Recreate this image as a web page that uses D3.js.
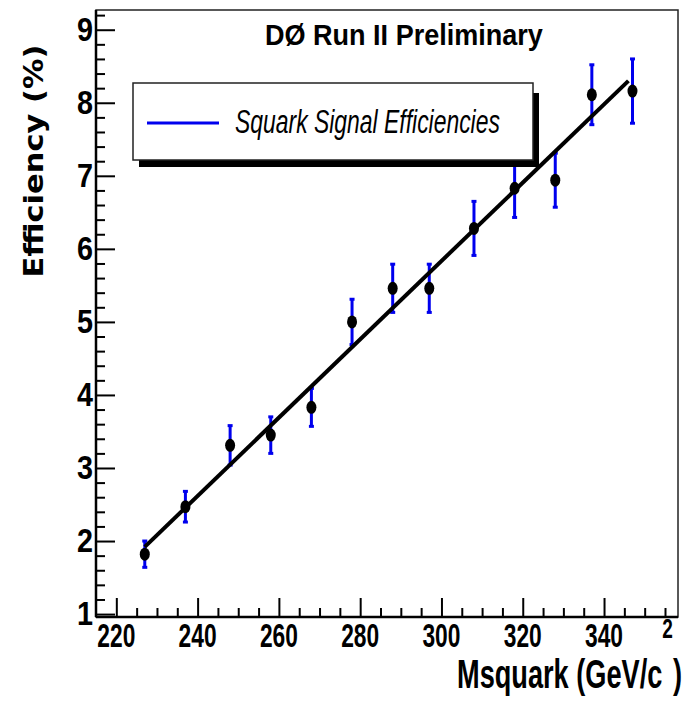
<!DOCTYPE html>
<html>
<head>
<meta charset="utf-8">
<script src="https://cdn.jsdelivr.net/npm/d3@7"></script>
<style>
    body { margin: 0; background: #fff; }
    svg { display: block; }
    text { fill: #000; }
</style>
</head>
<body>
<svg id="drawing_region"></svg>
<script>
// squark mass points (GeV/c^2) and measured signal efficiency (%)
const msquark = [ 227, 237, 248, 258, 268, 278, 288, 297, 308, 318, 328, 337, 347 ];
const efficiency = [ 1.82, 2.47, 3.31, 3.45, 3.83, 5.00, 5.46, 5.46, 6.28, 6.83, 6.94, 8.11, 8.16 ];
const efficiency_err = [ 0.18, 0.21, 0.27, 0.25, 0.26, 0.31, 0.33, 0.33, 0.37, 0.40, 0.37, 0.41, 0.44 ];

// straight-line fit end points
const fit_x = [ 227, 346 ];
const fit_y = [ 1.92, 8.30 ];

const xticks_major = [ 220, 240, 260, 280, 300, 320, 340 ];
const yticks_major = [ 1, 2, 3, 4, 5, 6, 7, 8, 9 ];

// squeeze a text horizontally so that it spans the given width
function fitText( sel, x, y, width, rotate ) {
    sel.each( function() {
        let t = d3.select( this );
        let w = this.getComputedTextLength();
        let s = w > 0 ? width / w : 1;
        let tx = typeof x === 'function' ? x( t.datum() ) : x;
        let ty = typeof y === 'function' ? y( t.datum() ) : y;
        t.attr( 'transform', `translate(${tx}, ${ty}) rotate(${rotate || 0}) scale(${s}, 1)` );
    } );
}

class EfficiencyChart {
    constructor( config, data ){
        this.config = {
            parent: config.parent,
            width: config.width || 683,
            height: config.height || 701,
            frame: config.frame,
            xdomain: config.xdomain,
            ydomain: config.ydomain
        };
        this.data = data;
        this.init();
    }

    init() {
        let self = this;
        let f = self.config.frame;

        self.svg = d3.select( self.config.parent )
            .attr( 'width', self.config.width )
            .attr( 'height', self.config.height );

        self.xscale = d3.scaleLinear()
            .domain( self.config.xdomain )
            .range( [ f.left, f.right ] );

        self.yscale = d3.scaleLinear()
            .domain( self.config.ydomain )
            .range( [ f.bottom, f.top ] );

        self.line = d3.line()
            .x( d => self.xscale( d[0] ) )
            .y( d => self.yscale( d[1] ) );
    }

    render() {
        let self = this;
        let f = self.config.frame;
        let font = '"Liberation Sans", Arial, sans-serif';

        // frame
        self.svg.append( 'rect' )
            .attr( 'x', f.left ).attr( 'y', f.top )
            .attr( 'width', f.right - f.left ).attr( 'height', f.bottom - f.top )
            .attr( 'fill', 'none' )
            .attr( 'stroke', '#222' )
            .attr( 'stroke-width', 1.5 );

        // x axis with ticks pointing up into the frame
        let xaxis = d3.axisTop( self.xscale )
            .tickValues( d3.range( 220, 356, 5 ) )
            .tickSize( 0 )
            .tickFormat( '' );
        let xg = self.svg.append( 'g' )
            .attr( 'transform', `translate(0, ${f.bottom})` )
            .call( xaxis );
        xg.select( '.domain' ).remove();
        xg.selectAll( '.tick line' )
            .attr( 'y2', d => xticks_major.includes( d ) ? -19 : -9 )
            .attr( 'stroke', '#000' )
            .attr( 'stroke-width', 2 );

        self.svg.append( 'line' )
            .attr( 'x1', f.left ).attr( 'x2', f.right )
            .attr( 'y1', f.bottom ).attr( 'y2', f.bottom )
            .attr( 'stroke', '#000' ).attr( 'stroke-width', 2.5 );

        self.svg.append( 'g' )
            .selectAll( 'text' )
            .data( xticks_major )
            .join( 'text' )
            .style( 'font-family', font )
            .style( 'font-weight', 'bold' )
            .style( 'font-size', '34px' )
            .text( d => d )
            .call( fitText, d => self.xscale( d ) - 19, f.bottom + 30, 38 );

        // y axis with ticks pointing right into the frame
        let yaxis = d3.axisRight( self.yscale )
            .tickValues( d3.range( 1, 9.21, 0.2 ).map( v => Math.round( v * 10 ) / 10 ) )
            .tickSize( 0 )
            .tickFormat( '' );
        let yg = self.svg.append( 'g' )
            .attr( 'transform', `translate(${f.left}, 0)` )
            .call( yaxis );
        yg.select( '.domain' ).remove();
        yg.selectAll( '.tick line' )
            .attr( 'x2', d => yticks_major.includes( d ) ? 19 : 9 )
            .attr( 'stroke', '#000' )
            .attr( 'stroke-width', 2 );

        self.svg.append( 'line' )
            .attr( 'x1', f.left ).attr( 'x2', f.left )
            .attr( 'y1', f.top ).attr( 'y2', f.bottom )
            .attr( 'stroke', '#000' ).attr( 'stroke-width', 2.5 );

        self.svg.append( 'g' )
            .selectAll( 'text' )
            .data( yticks_major )
            .join( 'text' )
            .style( 'font-family', font )
            .style( 'font-weight', 'bold' )
            .style( 'font-size', '34px' )
            .text( d => d )
            .call( fitText, f.left - 19, d => self.yscale( d ) + 11, 16 );

        // axis titles
        self.svg.append( 'text' )
            .attr( 'text-anchor', 'middle' )
            .style( 'font-family', '"DejaVu Sans", Arial, sans-serif' )
            .style( 'font-weight', 'bold' )
            .style( 'font-size', '27px' )
            .text( 'Efficiency (%)' )
            .call( fitText, 43, 161, 233, -90 );

        let xtitle = self.svg.append( 'text' )
            .style( 'font-family', font )
            .style( 'font-weight', 'bold' )
            .style( 'font-size', '40px' );
        xtitle.append( 'tspan' ).text( 'Msquark (GeV/c' );
        xtitle.append( 'tspan' )
            .attr( 'dy', -50 )
            .style( 'font-size', '28px' )
            .text( '2' );
        xtitle.append( 'tspan' )
            .attr( 'dy', 50 )
            .text( ')' );
        xtitle.call( fitText, 457, 688, 225 );

        // error bars
        let bars = self.svg.append( 'g' )
            .attr( 'stroke', '#0000ee' )
            .attr( 'stroke-width', 3 );
        bars.selectAll( 'line.bar' )
            .data( self.data )
            .join( 'line' )
            .attr( 'class', 'bar' )
            .attr( 'x1', d => self.xscale( d.mass ) )
            .attr( 'x2', d => self.xscale( d.mass ) )
            .attr( 'y1', d => self.yscale( d.eff - d.err ) )
            .attr( 'y2', d => self.yscale( d.eff + d.err ) );
        [ -1, 1 ].forEach( s => {
            bars.selectAll( `line.cap${s}` )
                .data( self.data )
                .join( 'line' )
                .attr( 'class', `cap${s}` )
                .attr( 'x1', d => self.xscale( d.mass ) - 2.5 )
                .attr( 'x2', d => self.xscale( d.mass ) + 2.5 )
                .attr( 'y1', d => self.yscale( d.eff + s * d.err ) )
                .attr( 'y2', d => self.yscale( d.eff + s * d.err ) );
        } );

        // markers
        self.svg.append( 'g' )
            .selectAll( 'ellipse' )
            .data( self.data )
            .join( 'ellipse' )
            .attr( 'cx', d => self.xscale( d.mass ) )
            .attr( 'cy', d => self.yscale( d.eff ) )
            .attr( 'rx', 5 )
            .attr( 'ry', 6.5 )
            .attr( 'fill', '#000' );

        // fit line
        self.svg.append( 'path' )
            .attr( 'd', self.line( d3.zip( fit_x, fit_y ) ) )
            .attr( 'stroke', '#000' )
            .attr( 'stroke-width', 4 )
            .attr( 'fill', 'none' );

        // title
        self.svg.append( 'text' )
            .style( 'font-family', font )
            .style( 'font-weight', 'bold' )
            .style( 'font-size', '30px' )
            .text( 'DØ Run II Preliminary' )
            .call( fitText, 265, 45, 278 );

        // legend box with drop shadow
        let lg = self.svg.append( 'g' );
        lg.append( 'rect' )
            .attr( 'x', 139 ).attr( 'y', 93 )
            .attr( 'width', 400 ).attr( 'height', 74 )
            .attr( 'fill', '#000' );
        lg.append( 'rect' )
            .attr( 'x', 133 ).attr( 'y', 83 )
            .attr( 'width', 400 ).attr( 'height', 77 )
            .attr( 'fill', '#fff' )
            .attr( 'stroke', '#222' )
            .attr( 'stroke-width', 1.5 );
        lg.append( 'line' )
            .attr( 'x1', 147 ).attr( 'x2', 219 )
            .attr( 'y1', 123 ).attr( 'y2', 123 )
            .attr( 'stroke', '#0000ee' )
            .attr( 'stroke-width', 3 );
        lg.append( 'text' )
            .style( 'font-family', font )
            .style( 'font-style', 'italic' )
            .style( 'font-size', '34px' )
            .text( 'Squark Signal Efficiencies' )
            .call( fitText, 235, 133, 265 );
    }
}

let data = msquark.map( ( m, i ) => ( { mass: m, eff: efficiency[i], err: efficiency_err[i] } ) );

let chart = new EfficiencyChart( {
    parent: '#drawing_region',
    width: 683,
    height: 701,
    frame: { left: 96, right: 678, top: 10, bottom: 617 },
    xdomain: [ 215, 358.2 ],
    ydomain: [ 0.96, 9.27 ]
}, data );
chart.render();
</script>
</body>
</html>
